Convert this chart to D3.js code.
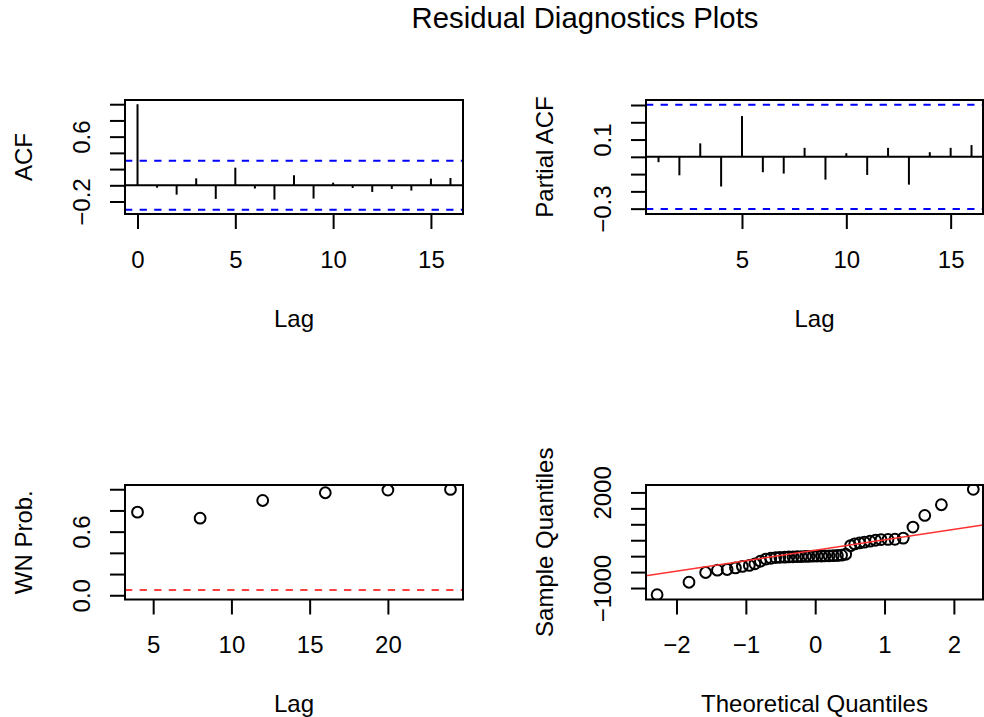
<!DOCTYPE html>
<html><head><meta charset="utf-8">
<script src="https://cdn.jsdelivr.net/npm/d3@7"></script>
<style>
html,body{margin:0;padding:0;background:#fff}
svg{display:block}
text{font-family:"Liberation Sans",Arial,Helvetica,sans-serif;fill:#000}
</style>
</head><body>
<svg id="c" width="984" height="717"></svg>
<script>
// ---------- data ----------
const acfLags = [0,1,2,3,4,5,6,7,8,9,10,11,12,13,14,15,16];
const acfValues = [1.0,-0.03,-0.115,0.086,-0.168,0.217,-0.04,-0.176,0.123,-0.164,0.033,-0.033,-0.082,-0.045,-0.065,0.082,0.09];
const pacfLags = [1,2,3,4,5,6,7,8,9,10,11,12,13,14,15,16];
const pacfValues = [-0.031,-0.107,0.078,-0.172,0.236,-0.089,-0.097,0.052,-0.132,0.021,-0.105,0.052,-0.161,0.027,0.052,0.068];
const confBound = 0.302;
const wnLags = [4,8,12,16,20,24];
const wnProb = [0.784,0.727,0.894,0.967,0.992,0.998];
const wnLevel = 0.05;
const qqTheoretical = [-2.28,-1.82,-1.58,-1.41,-1.27,-1.15,-1.05,-0.95,-0.87,-0.79,-0.71,-0.64,-0.57,-0.51,-0.44,-0.38,-0.32,-0.26,-0.20,-0.14,-0.09,-0.03,
  0.03,0.09,0.14,0.20,0.26,0.32,0.38,0.44,0.51,0.57,0.64,0.71,0.79,0.87,0.95,1.05,1.15,1.27,1.41,1.58,1.82,2.28];
const qqSample = [-1210,-818,-513,-440,-419,-367,-320,-290,-240,-160,-90,-65,-45,-35,-30,-25,-20,-15,-12,-8,-5,0,
  2,5,8,12,15,20,30,60,330,385,415,440,470,500,520,525,530,566,912,1279,1614,2097];
const qqLineIntercept = 185;
const qqLineSlope = 328;

const acfXTicks = [0,5,10,15];
const acfYTicks = [-0.2,0,0.2,0.4,0.6,0.8,1.0];
const acfYLabels = [-0.2,0.6];
const pacfXTicks = [5,10,15];
const pacfYTicks = [-0.3,-0.2,-0.1,0,0.1,0.2,0.3];
const pacfYLabels = [-0.3,0.1];
const wnXTicks = [5,10,15,20];
const wnYTicks = [0,0.2,0.4,0.6,0.8,1.0];
const wnYLabels = [0,0.6];
const qqXTicks = [-2,-1,0,1,2];
const qqYTicks = [-1000,-500,0,500,1000,1500,2000];
const qqYLabels = [-1000,2000];

const title = "Residual Diagnostics Plots";

// ---------- drawing ----------
const svg = d3.select("#c");
const FS = 24;
const LW = 2;
const minus = s => s.replace("-", "\u2212");

function panel(o) {
  const g = svg.append("g");
  const x = d3.scaleLinear().domain(o.xd).range([o.L, o.R]);
  const y = d3.scaleLinear().domain(o.yd).range([o.B, o.T]);
  const cid = "clip" + o.id;
  svg.append("defs").append("clipPath").attr("id", cid)
    .append("rect").attr("x", o.L).attr("y", o.T).attr("width", o.R - o.L).attr("height", o.B - o.T);

  const xa = g.append("g").attr("transform", `translate(0,${o.B})`)
    .call(d3.axisBottom(x).tickValues(o.xTicks).tickSize(15).tickFormat(d => minus(String(d))));
  xa.select(".domain").remove();
  xa.selectAll(".tick line").attr("stroke", "#000").attr("stroke-width", LW);
  xa.selectAll(".tick text").attr("y", 53.7).attr("dy", 0).attr("font-size", FS);
  xa.attr("font-family", null).attr("font-size", null);

  const ya = g.append("g").attr("transform", `translate(${o.L},0)`)
    .call(d3.axisLeft(y).tickValues(o.yTicks).tickSize(15)
      .tickFormat(d => o.yLabels.some(v => Math.abs(v - d) < 1e-9) ? minus(o.fmt(d)) : ""));
  ya.select(".domain").remove();
  ya.selectAll(".tick line").attr("stroke", "#000").attr("stroke-width", LW);
  ya.selectAll(".tick text").attr("x", 0).attr("dy", 0).attr("text-anchor", "middle")
    .attr("transform", "translate(-35,0) rotate(-90)").attr("font-size", FS);
  ya.attr("font-family", null).attr("font-size", null);

  const plot = g.append("g").attr("clip-path", `url(#${cid})`);
  o.draw(plot, x, y);

  g.append("rect").attr("x", o.L).attr("y", o.T).attr("width", o.R - o.L).attr("height", o.B - o.T)
    .attr("fill", "none").attr("stroke", "#000").attr("stroke-width", LW);

  g.append("text").attr("x", (o.L + o.R) / 2).attr("y", o.B + 112.7)
    .attr("text-anchor", "middle").attr("font-size", FS).text(o.xLabel);
  g.append("text").attr("text-anchor", "middle").attr("font-size", FS)
    .attr("transform", `translate(${o.L - 93.5},${(o.T + o.B) / 2}) rotate(-90)`).text(o.yLabel);
}

function hline(p, x, y, v, color, dash) {
  p.append("line").attr("x1", x.range()[0]).attr("x2", x.range()[1])
    .attr("y1", y(v)).attr("y2", y(v)).attr("stroke", color).attr("stroke-width", LW)
    .attr("stroke-dasharray", dash || null);
}

function spikes(p, x, y, lags, vals) {
  hline(p, x, y, 0, "#000");
  p.selectAll(null).data(lags).join("line")
    .attr("x1", d => x(d)).attr("x2", d => x(d))
    .attr("y1", y(0)).attr("y2", (d, i) => y(vals[i]))
    .attr("stroke", "#000").attr("stroke-width", LW);
  hline(p, x, y, confBound, "#0000ff", "7.3,7.3");
  hline(p, x, y, -confBound, "#0000ff", "7.3,7.3");
}

function circles(p, xs, ys, x, y) {
  p.selectAll(null).data(xs).join("circle")
    .attr("cx", d => x(d)).attr("cy", (d, i) => y(ys[i])).attr("r", 5.4)
    .attr("fill", "none").attr("stroke", "#000").attr("stroke-width", 2);
}

panel({id: 1, L: 125, R: 463, T: 100, B: 214, xd: [-0.64, 16.64], yd: [-0.354, 1.052],
  xTicks: acfXTicks, yTicks: acfYTicks, yLabels: acfYLabels, fmt: d => d.toFixed(1),
  xLabel: "Lag", yLabel: "ACF",
  draw: (p, x, y) => spikes(p, x, y, acfLags, acfValues)});

panel({id: 2, L: 646, R: 983, T: 100, B: 214, xd: [0.4, 16.55], yd: [-0.331, 0.329],
  xTicks: pacfXTicks, yTicks: pacfYTicks, yLabels: pacfYLabels, fmt: d => d.toFixed(1),
  xLabel: "Lag", yLabel: "Partial ACF",
  draw: (p, x, y) => spikes(p, x, y, pacfLags, pacfValues)});

panel({id: 3, L: 125, R: 463, T: 485, B: 599.5, xd: [3.2, 24.8], yd: [-0.04, 1.04],
  xTicks: wnXTicks, yTicks: wnYTicks, yLabels: wnYLabels, fmt: d => d.toFixed(1),
  xLabel: "Lag", yLabel: "WN Prob.",
  draw: (p, x, y) => {
    hline(p, x, y, wnLevel, "#ff4040", "7.3,7.3");
    circles(p, wnLags, wnProb, x, y);
  }});

panel({id: 4, L: 646, R: 983, T: 485, B: 599.5, xd: [-2.44, 2.42], yd: [-1360, 2233],
  xTicks: qqXTicks, yTicks: qqYTicks, yLabels: qqYLabels, fmt: d => String(d),
  xLabel: "Theoretical Quantiles", yLabel: "Sample Quantiles",
  draw: (p, x, y) => {
    circles(p, qqTheoretical, qqSample, x, y);
    const xd = x.domain();
    p.append("line")
      .attr("x1", x(xd[0])).attr("y1", y(qqLineIntercept + qqLineSlope * xd[0]))
      .attr("x2", x(xd[1])).attr("y2", y(qqLineIntercept + qqLineSlope * xd[1]))
      .attr("stroke", "#ff3030").attr("stroke-width", 1.6);
  }});

svg.append("text").attr("x", 585).attr("y", 28).attr("text-anchor", "middle")
  .attr("font-size", 29.3).text(title);
</script>
</body></html>
